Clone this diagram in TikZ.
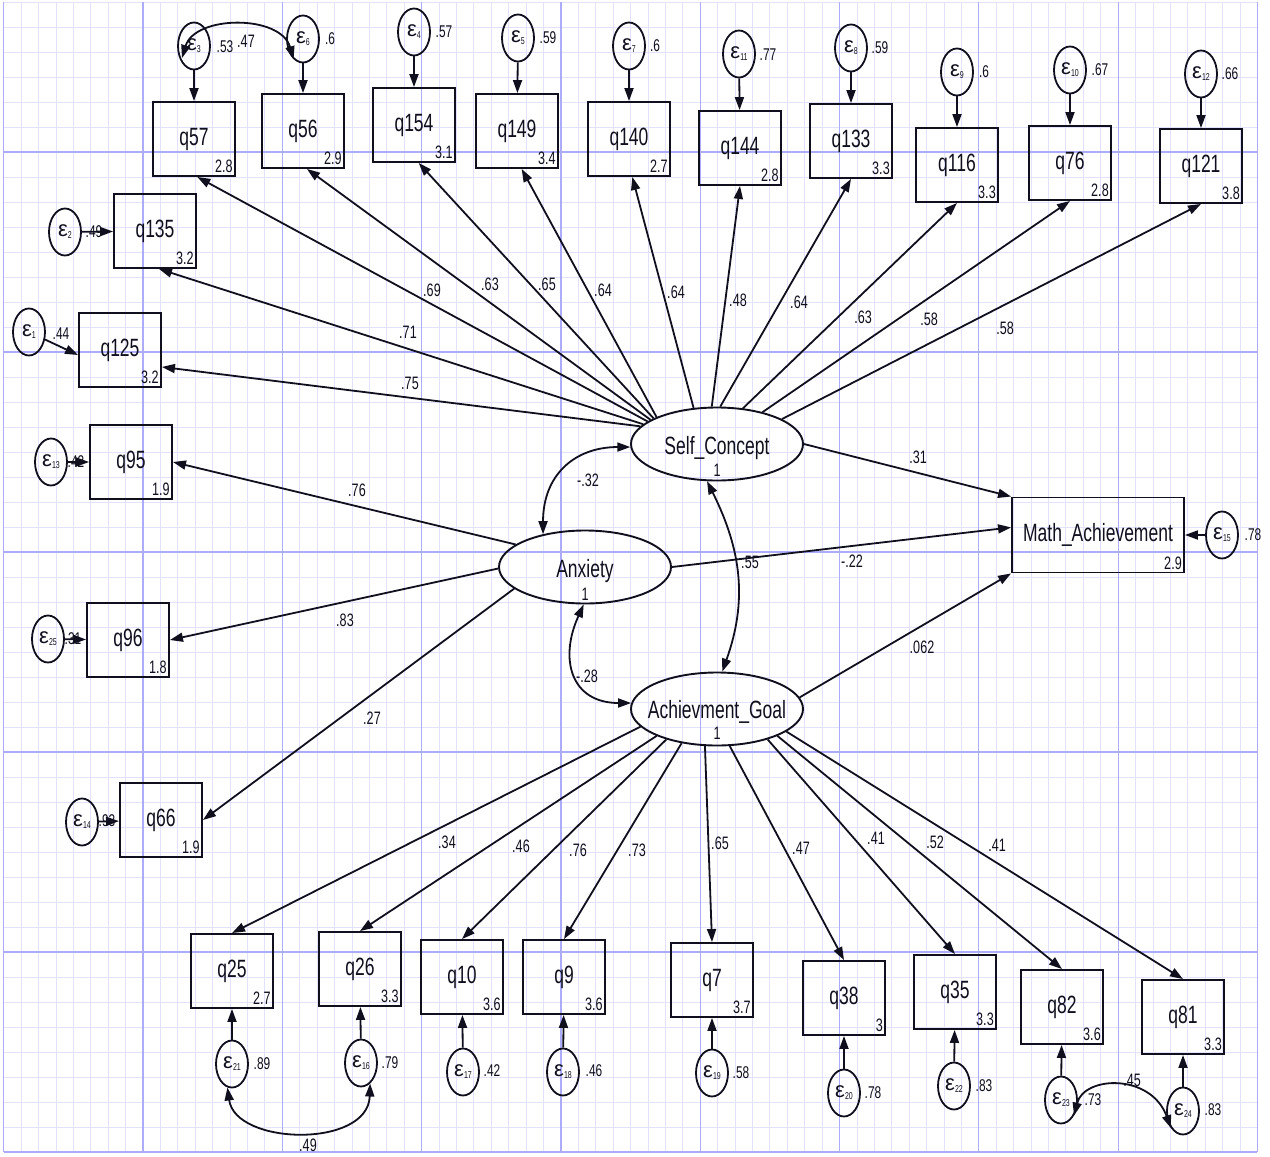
\documentclass[tikz,border=0pt]{standalone}
\usepackage{fontspec}
\setmainfont[FakeStretch=0.7]{Liberation Sans}
\newfontfamily\epsfam{Liberation Sans}
\usetikzlibrary{shapes.geometric,arrows.meta,calc}
\definecolor{ink}{RGB}{15,15,30}
\definecolor{gminor}{RGB}{226,226,252}
\definecolor{gmajor}{RGB}{172,172,250}
\newcommand{\errtxt}[1]{{\epsfam\fontsize{22}{22}\selectfont ε}\raisebox{-2pt}{\fontsize{10}{10}\selectfont #1}}
\newcommand{\obsbox}[4]{\node[obs] (#1) at (#2) {#3}; \node[meanlbl] (#1m) at (#1.south east) {#4};}
\newcommand{\errnode}[5]{\node[err] (#1) at (#2) {\errtxt{#3}}; \node[vlbl] (#1v) at (#4) {#5};}
\begin{document}
\begin{tikzpicture}[x=1pt,y=-1pt,
  obs/.style={draw=ink, line width=1.9pt, minimum width=82pt, minimum height=74pt, inner sep=0pt, font=\fontsize{25}{25}\selectfont, text=ink},
  err/.style={ellipse, draw=ink, line width=1.8pt, minimum width=32pt, minimum height=47pt, inner sep=0pt, text=ink},
  lat/.style={ellipse, draw=ink, line width=1.9pt, minimum width=172pt, minimum height=73pt, inner sep=0pt},
  lattxt/.style={font=\fontsize{25}{25}\selectfont, text=ink, inner sep=0pt, anchor=base},
  one/.style={font=\fontsize{18}{18}\selectfont, text=ink, inner sep=0pt, anchor=base},
  pth/.style={draw=ink, line width=1.8pt, -{Triangle[length=13pt,width=9pt]}},
  cov/.style={draw=ink, line width=1.8pt, {Triangle[length=13pt,width=9pt]}-{Triangle[length=13pt,width=9pt]}},
  lbl/.style={font=\fontsize{18}{18}\selectfont, text=ink, inner sep=0pt},
  vlbl/.style={font=\fontsize{17}{17}\selectfont, text=ink, inner sep=0pt},
  meanlbl/.style={font=\fontsize{18}{18}\selectfont, text=ink, inner xsep=3pt, inner ysep=4pt, anchor=south east}]
\useasboundingbox (0,0) rectangle (1270,1157);
\fill[white] (0,0) rectangle (1270,1157);
% grid
\foreach \i in {0,...,72} {\draw[gminor, line width=0.8pt] ({3.7+\i*17.4125},2) -- ({3.7+\i*17.4125},1152);}
\foreach \j in {0,...,46} {\draw[gminor, line width=0.8pt] (3.7,{2+25*\j}) -- (1257.4,{2+25*\j});}
\foreach \i in {0,8,...,72} {\draw[gmajor, line width=1.2pt] ({3.7+\i*17.4125},2) -- ({3.7+\i*17.4125},1152);}
\foreach \j in {6,14,...,46} {\draw[gmajor, line width=1.2pt] (3.7,{2+25*\j}) -- (1257.4,{2+25*\j});}

% observed boxes
\obsbox{q57}{194,139}{q57}{2.8}
\obsbox{q56}{303,131}{q56}{2.9}
\obsbox{q154}{414,125}{q154}{3.1}
\obsbox{q149}{517,131}{q149}{3.4}
\obsbox{q140}{629,139}{q140}{2.7}
\obsbox{q144}{740,148}{q144}{2.8}
\obsbox{q133}{851,141}{q133}{3.3}
\obsbox{q116}{957,165}{q116}{3.3}
\obsbox{q76}{1070,163}{q76}{2.8}
\obsbox{q121}{1201,166}{q121}{3.8}
\obsbox{q135}{155,231}{q135}{3.2}
\obsbox{q125}{120,350}{q125}{3.2}
\obsbox{q95}{131,462}{q95}{1.9}
\obsbox{q96}{128,640}{q96}{1.8}
\obsbox{q66}{161,820}{q66}{1.9}
\obsbox{q25}{232,971}{q25}{2.7}
\obsbox{q26}{360,969}{q26}{3.3}
\obsbox{q10}{462,977}{q10}{3.6}
\obsbox{q9}{564,977}{q9}{3.6}
\obsbox{q7}{712,980}{q7}{3.7}
\obsbox{q38}{844,998}{q38}{3}
\obsbox{q35}{955,992}{q35}{3.3}
\obsbox{q82}{1062,1007}{q82}{3.6}
\obsbox{q81}{1183,1017}{q81}{3.3}
\node[obs, minimum width=172pt, minimum height=75pt] (MA) at (1098,535) {Math\_Achievement};
\node[meanlbl] (MAm) at (MA.south east) {2.9};

% latent variables
\node[lat] (SC) at (717,444) {};
\node[lattxt] (SCt) at (717,454) {Self\_Concept};
\node[one] (SC1) at (717,476) {1};
\node[lat] (Anx) at (585,567) {};
\node[lattxt] (Anxt) at (585,577) {Anxiety};
\node[one] (Anx1) at (585,600) {1};
\node[lat] (AG) at (717,709) {};
\node[lattxt] (AGt) at (717,718) {Achievment\_Goal};
\node[one] (AG1) at (717,739) {1};

% error terms
\errnode{e3}{194,46}{3}{225,47}{.53}
\errnode{e6}{303,39}{6}{330,39}{.6}
\errnode{e4}{414,32}{4}{444,32}{.57}
\errnode{e5}{518,38}{5}{548,38}{.59}
\errnode{e7}{629,46}{7}{655,46}{.6}
\errnode{e11}{739,54}{11}{768,55}{.77}
\errnode{e8}{851,48}{8}{880,48}{.59}
\errnode{e9}{957,72}{9}{984,72}{.6}
\errnode{e10}{1070,70}{10}{1100,70}{.67}
\errnode{e12}{1201,74}{12}{1230,74}{.66}
\errnode{e2}{65,232}{2}{94,232}{.49}
\errnode{e1}{29,332}{1}{61,334}{.44}
\errnode{e13}{51,462}{13}{76,462}{.42}
\errnode{e25}{48,639}{25}{73,639}{.31}
\errnode{e14}{82,822}{14}{107,821}{.93}
\errnode{e15}{1222,535}{15}{1253,535}{.78}
\errnode{e21}{232,1064}{21}{262,1064}{.89}
\errnode{e16}{361,1063}{16}{390,1063}{.79}
\errnode{e17}{463,1072}{17}{492,1071}{.42}
\errnode{e18}{563,1072}{18}{594,1071}{.46}
\errnode{e19}{712,1073}{19}{741,1073}{.58}
\errnode{e20}{844,1093}{20}{873,1093}{.78}
\errnode{e22}{954,1086}{22}{984,1086}{.83}
\errnode{e23}{1061,1100}{23}{1093,1100}{.73}
\errnode{e24}{1183,1111}{24}{1213,1110}{.83}

% error arrows
\foreach \e/\q in {e3/q57,e6/q56,e4/q154,e5/q149,e7/q140,e11/q144,e8/q133,e9/q116,e10/q76,e12/q121,
  e2/q135,e13/q95,e25/q96,e14/q66,e15/MA,e21/q25,e16/q26,e17/q10,e18/q9,e19/q7,e20/q38,e22/q35,e23/q82,e24/q81}
  {\draw[pth] (\e) -- (\q);}
\draw[pth] (e1) -- ([yshift=-5pt]q125.west);

% Self_Concept loadings
\draw[pth] (SC.167) -- (q125.-22);
\draw[pth] (SC.165) -- (q135.-84);
\draw[pth] (SC.162) -- (q57.-85);
\draw[pth] (SC.160) -- (q56.-84);
\draw[pth] (SC.158) -- (q154.-83);
\draw[pth] (SC.156) -- (q149.-83);
\draw[pth] (SC.123) -- (q140.-85);
\draw[pth] (SC.98) -- (q144.south);
\draw[pth] (SC.85) -- (q133.south);
\draw[pth] (SC.54) -- (q116.south);
\draw[pth] (SC.35) -- (q76.south);
\draw[pth] (SC.21) -- (q121.south);

% Anxiety loadings
\draw[pth] (Anx.162) -- (q95.east);
\draw[pth] (Anx.181) -- (q96.east);
\draw[pth] (Anx.197) -- (q66.east);

% Achievement goal loadings
\draw[pth] (AG.193) -- (q25.north);
\draw[pth] (AG.204) -- (q26.north);
\draw[pth] (AG.211) -- (q10.north);
\draw[pth] (AG.224) -- (q9.north);
\draw[pth] (AG.252) -- (q7.north);
\draw[pth] (AG.289) -- (q38.north);
\draw[pth] (AG.329) -- (q35.north);
\draw[pth] (AG.336) -- (q82.north);
\draw[pth] (AG.342) -- (q81.north);

% structural paths
\draw[pth] (SC.east) -- (MA.north west);
\draw[pth] (Anx.east) -- (MA.175);
\draw[pth] (AG.8) -- (MA.south west);

% covariances
\draw[cov] (Anx.142) .. controls ($(Anx.142)+(0,-60)$) and ($(SC.182)+(-55,0)$) .. (SC.182);
\draw[cov] (Anx.268) .. controls ($(Anx.268)+(-25,55)$) and ($(AG.176)+(-60,0)$) .. (AG.176);
\draw[cov] (SC.255) .. controls ($(SC.255)+(35,70)$) and ($(AG.82)+(25,-70)$) .. (AG.82);
\draw[cov] ($(e3.center)+(-12,12)$) .. controls ($(e3.center)+(1,-31)$) and ($(e6.245)+(-13,-45)$) .. (e6.245);
\draw[cov] (e21.259) .. controls ($(e21.259)+(8,58)$) and ($(e16.294)+(-2,65)$) .. (e16.294);
\draw[cov] (e23.-50) .. controls ($(e23.-50)+(10,-40)$) and ($(e24.235)+(-20,-55)$) .. (e24.235);

% coefficient labels
\foreach \x/\y/\t [count=\k] in {410/383/.75, 408/332/.71, 432/290/.69, 490/284/.63, 547/284/.65, 603/290/.64,
  676/292/.64, 738/300/.48, 799/302/.64, 863/317/.63, 929/319/.58, 1005/328/.58,
  918/457/.31, 852/561/-.22, 750/562/.55, 922/647/.062, 588/480/-.32, 587/676/-.28,
  357/490/.76, 345/620/.83, 372/718/.27,
  447/842/.34, 521/846/.46, 578/850/.76, 637/850/.73, 720/843/.65, 801/848/.47, 876/838/.41, 935/842/.52, 997/845/.41,
  246/41/.47, 308/1145/.49, 1132/1080/.45}
  {\node[lbl] (L\k) at (\x,\y) {\t};}
\end{tikzpicture}
\end{document}
